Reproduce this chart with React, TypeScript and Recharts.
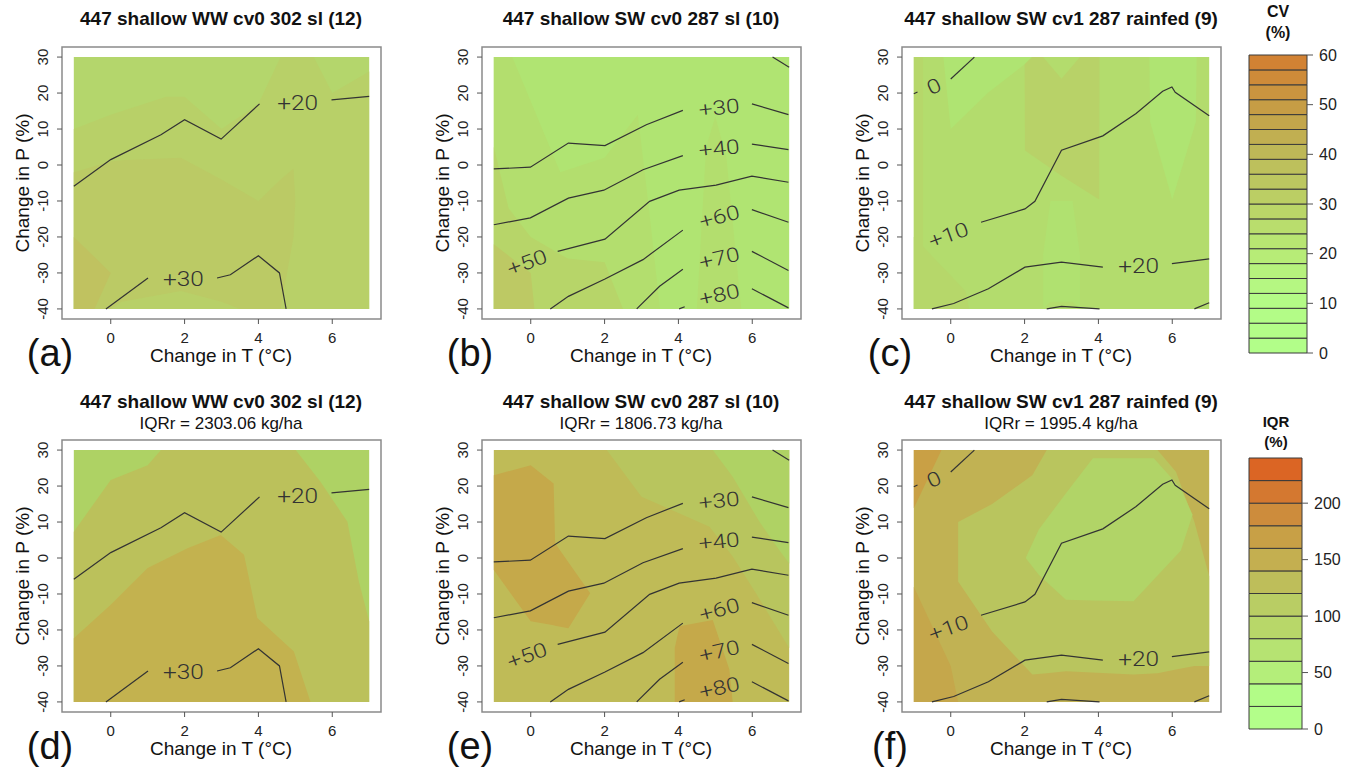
import React from 'react';
import {
  ComposedChart,
  Area,
  Line,
  Scatter,
  XAxis,
  YAxis,
  ReferenceArea,
  BarChart,
  Bar,
} from 'recharts';

type Band = { x: number; lo: number; hi: number };
type Pt = { x: number; y: number };
type Lbl = { x: number; y: number; text: string };

const toBand = (rows: number[][]): Band[] => rows.map(([x, lo, hi]) => ({ x, lo, hi }));
const toPts = (rows: number[][]): Pt[] => rows.map(([x, y]) => ({ x, y }));

// axes
const X_TICKS = [0, 2, 4, 6];
const Y_TICKS = [-40, -30, -20, -10, 0, 10, 20, 30];
const X_DOMAIN: [number, number] = [-1.32, 7.32];
const Y_DOMAIN: [number, number] = [-42.8, 32.8];

// colour bar levels
const CV_LEVELS = [0, 3, 6, 9, 12, 15, 18, 21, 24, 27, 30, 33, 36, 39, 42, 45, 48, 51, 54, 57, 60];
const CV_TICKS = [0, 10, 20, 30, 40, 50, 60];
const IQR_LEVELS = [0, 20, 40, 60, 80, 100, 120, 140, 160, 180, 200, 220, 240];
const IQR_TICKS = [0, 50, 100, 150, 200];

// filled regions (x, lower edge, upper edge)
const FULL = toBand([[-1, -40, 30], [7, -40, 30]]);

const A_MID = toBand([[-1, -40, 10], [0, -40, 14], [1.5, -40, 19], [2, -40, 19], [3, -40, 10], [4, -40, 17], [4.6, -40, 30], [5.5, -40, 30], [6, -40, 20], [7, -40, 26]]);
const A_DARK = toBand([[-1, -40, -2], [0, -40, 1], [0.3, -38, 1.3], [1.9, -35, 2], [3, -38, -4], [3.5, -40, -7], [4, -40, -10], [4.6, -40, -4], [4.95, -20, -1], [5, -10, -10]]);
const A_CORNER = toBand([[-1, -40, -20], [-0.44, -40, -25.6], [0, -30, -30]]);

const B_MID = toBand([[-1, -40, 30], [-0.5, -40, 30], [0.8, -40, -2], [2, -40, 2], [2.9, -40, 14], [3.2, -40, -12], [3.5, -40, -40]]);
const B_MID2 = toBand([[4.5, -40, -40], [4.75, -40, 5], [5, -40, 13.5], [5.3, -40, 2], [5.7, -40, -40]]);
const B_DARK = toBand([[-1, -40, 5], [-0.6, -40, -12], [0, -40, -20], [1, -40, -26], [2, -40, -27], [2.5, -40, -40]]);
const B_CORNER = toBand([[-1, -40, -22], [0, -40, -30], [0.1, -40, -40]]);

const C_LEFT = toBand([[-1, -40, 30], [-0.75, -40, 30]]);
const C_LEFT_LOW = toBand([[-1, -40, -20], [0.4, -40, -35], [0.5, -40, -40]]);
const C_DARK = toBand([[2, 30, 30], [2.01, 4, 30], [3, -3, 30], [4.02, -9.6, 30], [4.03, 30, 30]]);
const C_NOTCH = toBand([[2.5, 30, 30], [3, 24, 30], [3.5, 30, 30]]);
const C_LIGHT1 = toBand([[-0.2, 30, 30], [0, 10, 30], [1, 20, 30], [2, 28, 30], [2.2, 30, 30]]);
const C_LIGHT2 = toBand([[5.38, 30, 30], [5.4, 12, 30], [6, -9.6, 30], [6.64, 12, 30], [6.66, 30, 30]]);
const C_LIGHT3 = toBand([[2.5, -40, -25], [2.7, -38, -10], [3.3, -38, -10], [3.5, -40, -25]]);

const D_MID = toBand([[-1, -40, 7.3], [0, -40, 21.7], [1, -40, 25.8], [1.36, -40, 30], [5.01, -40, 30], [5.68, -40, 21.2], [6.41, -40, 10.1], [6.72, -40, -6.5], [7, -40, -17.6]]);
const D_IN = toBand([[-1, -40, -22.3], [0, -40, -13], [1, -40, -2.8], [2.08, -40, 2.7], [2.98, -40, 6.4], [3.61, -40, 0.9], [3.97, -40, -16.7], [4.96, -40, -26], [5.41, -40, -40]]);

const E_G1 = toBand([[2.06, 30, 30], [3, 17, 30], [4.03, 12.4, 30], [4.84, 8.7, 30], [5.47, 0.4, 30], [6.1, -9.8, 30], [7, -25, 30]]);
const E_G2 = toBand([[4.93, 30, 30], [5.47, 22.6, 30], [6.2, 10, 30], [6.73, 2.2, 30], [7, -1.5, 30]]);
const E_OR1 = toBand([[-1, -3.3, 23], [0, -17.6, 25.8], [0.62, -18.7, 20.7], [0.66, -18.8, 4.1], [1.02, -19.5, -1.2], [1.61, -9.8, -9.8]]);
const E_OR2 = toBand([[3.9, -40, -25], [4.03, -40, -19], [4.93, -40, -17.2], [5.38, -40, -31], [5.47, -40, -40]]);

const F_CORNER = toBand([[-1, 13.8, 30], [-0.25, 30, 30]]);
const F_LEFT = toBand([[-1, -40, -8], [0, -40, -30], [0.2, -40, -40]]);
const F_MID = toBand([[0.2, -6.5, 10], [1.12, -20.4, 15], [2.21, -32.4, 23], [2.6, -32, 30], [3.12, -31.5, 30], [4.95, -32.4, 30], [5.6, -32, 30], [6.1, -31, 24], [6.6, -30, 10], [7, -30, -5]]);
const F_IN = toBand([[2.03, 0, 0], [2.39, -4.7, 8], [3.12, -11.6, 18], [3.85, -11.8, 27.7], [4.95, -12, 27.7], [5.5, -6, 27.7], [6.23, 2, 19.4], [6.55, 12, 12]]);

// contour lines (split where the label sits)
const LINES_WW = [
  toPts([[-1, -5.9], [0, 1.5], [1.36, 8.4], [2, 12.6], [2.99, 7.2], [4.03, 17]]),
  toPts([[5.98, 18.1], [7, 19.1]]),
  toPts([[-0.13, -40], [1.01, -31.4]]),
  toPts([[2.88, -31.4], [3.24, -30.5], [4, -25.2], [4.57, -30], [4.75, -40]]),
];
const LABELS_WW: Lbl[] = [
  { x: 5.06, y: 17.4, text: '+20' },
  { x: 1.97, y: -31.7, text: '+30' },
];
const ANGLES_WW = [0, 0];

const LINES_SW = [
  toPts([[6.55, 30], [7, 27.2]]),
  toPts([[-1, -1.1], [-0.01, -0.6], [1.02, 6.1], [2.01, 5.4], [3.13, 11.2], [4.12, 15.2]]),
  toPts([[5.99, 17], [6.98, 14]]),
  toPts([[-1, -16.6], [-0.01, -14.7], [1.02, -9.2], [1.98, -7], [3.04, -1.3], [4.12, 2.6]]),
  toPts([[5.99, 5.8], [6.98, 4.3]]),
  toPts([[0.73, -24], [2.01, -20.6], [3.22, -10.1], [4.02, -7], [5.02, -5.6], [5.99, -3.1], [6.98, -4.8]]),
  toPts([[0.53, -40], [1.02, -36.5], [2.01, -31.7], [3.04, -26.3], [4.12, -18.1]]),
  toPts([[5.99, -12.4], [6.98, -15.9]]),
  toPts([[2.87, -40], [3.49, -33.7], [4.12, -29]]),
  toPts([[5.99, -24], [6.98, -29.3]]),
  toPts([[4.02, -40], [4.17, -39.4]]),
  toPts([[5.99, -34.4], [6.98, -39.7]]),
];
const LABELS_SW: Lbl[] = [
  { x: 5.1, y: 16, text: '+30' },
  { x: 5.1, y: 4.7, text: '+40' },
  { x: -0.1, y: -27, text: '+50' },
  { x: 5.11, y: -14.3, text: '+60' },
  { x: 5.11, y: -25.8, text: '+70' },
  { x: 5.11, y: -36, text: '+80' },
];
const ANGLES_SW = [-6, -6, -20, -15, -13, -13];

const LINES_RF = [
  toPts([[-1, 19.8], [-0.9, 20.3]]),
  toPts([[0, 23.9], [0.64, 30]]),
  toPts([[0.82, -15.9], [2.01, -12.2], [2.28, -10.1], [3, 4.1], [4.12, 8.1], [5.02, 14.3], [5.74, 20.5], [5.99, 21.7], [6.08, 20.2], [7, 13.7]]),
  toPts([[-0.51, -40], [0.08, -38.5], [1.02, -34.4], [2.01, -28.4], [3, -27], [4.12, -28.4]]),
  toPts([[5.99, -27.4], [7, -26.1]]),
  toPts([[2.6, -40], [3, -39.3], [4.03, -40]]),
  toPts([[6.6, -40], [7, -38.3]]),
];
const LABELS_RF: Lbl[] = [
  { x: -0.46, y: 21.9, text: '0' },
  { x: -0.06, y: -19.4, text: '+10' },
  { x: 5.09, y: -28.1, text: '+20' },
];
const ANGLES_RF = [-25, -20, 0];

const TITLES = [
  '447 shallow WW cv0 302 sl (12)',
  '447 shallow SW cv0 287 sl (10)',
  '447 shallow SW cv1 287 rainfed (9)',
];
const SUBTITLES = ['IQRr = 2303.06 kg/ha', 'IQRr = 1806.73 kg/ha', 'IQRr = 1995.4 kg/ha'];

const FONT = '"Liberation Sans", Arial, sans-serif';

type PanelCfg = {
  col: number;
  row: number;
  letter: string;
  title: string;
  sub?: string;
  fills: [Band[], string][];
  lines: Pt[][];
  labels: Lbl[];
  angles: number[];
};

const PANELS: PanelCfg[] = [
  { col: 0, row: 0, letter: '(a)', title: TITLES[0], lines: LINES_WW, labels: LABELS_WW, angles: ANGLES_WW,
    fills: [[FULL, '#b4d66c'], [A_MID, '#b8d068'], [A_DARK, '#bbca65'], [A_CORNER, '#c0c260']] },
  { col: 1, row: 0, letter: '(b)', title: TITLES[1], lines: LINES_SW, labels: LABELS_SW, angles: ANGLES_SW,
    fills: [[FULL, '#b0e472'], [B_MID, '#b3de6e'], [B_MID2, '#b3de6e'], [B_DARK, '#b7d569'], [B_CORNER, '#bdc964']] },
  { col: 2, row: 0, letter: '(c)', title: TITLES[2], lines: LINES_RF, labels: LABELS_RF, angles: ANGLES_RF,
    fills: [[FULL, '#b3dc6d'], [C_LEFT, '#b6d76a'], [C_LEFT_LOW, '#b6d76a'], [C_DARK, '#b8d268'], [C_NOTCH, '#b3dc6d'], [C_LIGHT1, '#afe472'], [C_LIGHT2, '#afe472'], [C_LIGHT3, '#b0e170']] },
  { col: 0, row: 1, letter: '(d)', title: TITLES[0], sub: SUBTITLES[0], lines: LINES_WW, labels: LABELS_WW, angles: ANGLES_WW,
    fills: [[FULL, '#aed264'], [D_MID, '#bbc15b'], [D_IN, '#c3b24f']] },
  { col: 1, row: 1, letter: '(e)', title: TITLES[1], sub: SUBTITLES[1], lines: LINES_SW, labels: LABELS_SW, angles: ANGLES_SW,
    fills: [[FULL, '#bfbb57'], [E_G1, '#b8c55e'], [E_G2, '#afd264'], [E_OR1, '#c5a94a'], [E_OR2, '#c5a94a']] },
  { col: 2, row: 1, letter: '(f)', title: TITLES[2], sub: SUBTITLES[2], lines: LINES_RF, labels: LABELS_RF, angles: ANGLES_RF,
    fills: [[FULL, '#c1b253'], [F_CORNER, '#c9a045'], [F_LEFT, '#c5a74b'], [F_MID, '#b9c55e'], [F_IN, '#b1d467']] },
];

// colour ramps for the keys: [value, r, g, b]
const CV_RAMP = [[0, 178, 255, 138], [12, 180, 250, 133], [20, 183, 235, 118], [30, 186, 210, 102], [40, 190, 186, 88], [50, 198, 155, 68], [60, 212, 126, 48]];
const IQR_RAMP = [[0, 179, 255, 140], [30, 178, 252, 135], [50, 180, 238, 122], [90, 184, 215, 105], [110, 185, 205, 100], [130, 190, 190, 90], [150, 196, 175, 80], [170, 200, 160, 70], [190, 205, 140, 60], [210, 212, 120, 48], [240, 222, 92, 30]];

const rampColor = (ramp: number[][], v: number) => {
  for (let i = 1; i < ramp.length; i++) {
    if (v <= ramp[i][0]) {
      const a = ramp[i - 1];
      const b = ramp[i];
      const t = (v - a[0]) / (b[0] - a[0]);
      const c = [1, 2, 3].map(k => Math.round(a[k] + (b[k] - a[k]) * t));
      return `rgb(${c[0]},${c[1]},${c[2]})`;
    }
  }
  const l = ramp[ramp.length - 1];
  return `rgb(${l[1]},${l[2]},${l[3]})`;
};

const renderYTick = (props: any) => {
  const { x, y, payload } = props;
  return (
    <text x={x} y={y} transform={`rotate(-90 ${x} ${y})`} textAnchor="middle" dominantBaseline="central" fontSize={15} fill="#222">
      {payload.value}
    </text>
  );
};

const Txt = ({ x, y, size, bold, rotate, children }: any) => (
  <div
    style={{
      position: 'absolute',
      left: x,
      top: y,
      transform: `translate(-50%, -50%)${rotate ? ` rotate(${rotate}deg)` : ''}`,
      fontSize: size,
      fontWeight: bold ? 700 : 400,
      whiteSpace: 'nowrap',
      color: '#111',
      lineHeight: 1,
    }}
  >
    {children}
  </div>
);

const ContourPanel = ({ cfg }: { cfg: PanelCfg }) => {
  const left = cfg.col * 420;
  const top = cfg.row * 393;
  const angleOf = (text: string, x: number) => {
    const i = cfg.labels.findIndex(l => l.text === text && l.x === x);
    return cfg.angles[i] || 0;
  };
  const LabelShape = (p: any) => {
    const a = angleOf(p.payload.text, p.payload.x);
    return (
      <text
        transform={`translate(${p.cx} ${p.cy}) rotate(${a}) scale(1.22 1)`}
        textAnchor="middle"
        dominantBaseline="central"
        fontSize={20}
        fontFamily="Roboto, sans-serif"
        fontWeight={300}
        fill="#333"
      >
        {p.payload.text}
      </text>
    );
  };
  return (
    <>
      {cfg.sub ? (
        <>
          <Txt x={left + 221} y={top + 8} size={19} bold>{cfg.title}</Txt>
          <Txt x={left + 221} y={top + 30} size={17}>{cfg.sub}</Txt>
        </>
      ) : (
        <Txt x={left + 221} y={top + 18} size={19} bold>{cfg.title}</Txt>
      )}
      <div style={{ position: 'absolute', left, top }}>
        <ComposedChart width={400} height={370} margin={{ top: 47, right: 19, bottom: 21, left: 32 }}>
          <XAxis
            type="number"
            dataKey="x"
            domain={X_DOMAIN}
            ticks={X_TICKS}
            allowDataOverflow
            height={30}
            tickSize={5}
            tickMargin={8}
            axisLine={false}
            tickLine={{ stroke: '#555' }}
            tick={{ fontSize: 15, fill: '#222' }}
          />
          <YAxis
            type="number"
            domain={Y_DOMAIN}
            ticks={Y_TICKS}
            allowDataOverflow
            width={30}
            tickSize={5}
            tickMargin={14}
            axisLine={false}
            tickLine={{ stroke: '#555' }}
            tick={renderYTick}
          />
          {cfg.fills.map(([data, color], i) => (
            <Area
              key={`f${i}`}
              data={data}
              dataKey={(d: Band) => [d.lo, d.hi]}
              type="linear"
              stroke="none"
              fill={color}
              fillOpacity={1}
              dot={false}
              activeDot={false}
              isAnimationActive={false}
            />
          ))}
          {cfg.lines.map((seg, i) => (
            <Line
              key={`l${i}`}
              data={seg}
              dataKey="y"
              type="linear"
              stroke="#333"
              strokeWidth={1.2}
              dot={false}
              activeDot={false}
              isAnimationActive={false}
            />
          ))}
          <Scatter data={cfg.labels} dataKey="y" shape={LabelShape} isAnimationActive={false} />
          <ReferenceArea
            x1={X_DOMAIN[0]}
            x2={X_DOMAIN[1]}
            y1={Y_DOMAIN[0]}
            y2={Y_DOMAIN[1]}
            fill="none"
            stroke="#8a8a8a"
            strokeWidth={1.5}
            ifOverflow="visible"
          />
        </ComposedChart>
      </div>
      <Txt x={left + 221} y={top + 355} size={19}>Change in T (°C)</Txt>
      <Txt x={left + 22} y={top + 183} size={19} rotate={-90}>Change in P (%)</Txt>
      <Txt x={left + 50} y={top + 353} size={38}>{cfg.letter}</Txt>
    </>
  );
};

const ColorKey = ({ left, top, height, plotW, levels, ticks, ramp, mTop, mBottom }: any) => {
  const row: Record<string, any> = { name: 'key' };
  levels.slice(1).forEach((v: number, i: number) => {
    row[`b${i}`] = v - levels[i];
  });
  const max = levels[levels.length - 1];
  return (
    <div style={{ position: 'absolute', left, top }}>
      <BarChart
        width={120}
        height={height}
        data={[row]}
        barCategoryGap={0}
        margin={{ top: mTop, bottom: mBottom, left: 9, right: 0 }}
      >
        <XAxis dataKey="name" hide />
        <YAxis
          orientation="right"
          type="number"
          domain={[0, max]}
          ticks={ticks}
          width={120 - 9 - plotW}
          tickSize={6}
          tickMargin={6}
          axisLine={false}
          tickLine={{ stroke: '#555' }}
          tick={{ fontSize: 16, fill: '#222', textAnchor: 'start' }}
        />
        {levels.slice(1).map((v: number, i: number) => (
          <Bar
            key={`b${i}`}
            dataKey={`b${i}`}
            stackId="k"
            fill={rampColor(ramp, (levels[i] + v) / 2)}
            stroke="#3a3a3a"
            strokeWidth={1}
            isAnimationActive={false}
          />
        ))}
      </BarChart>
    </div>
  );
};

export default function App() {
  return (
    <div
      style={{
        position: 'absolute',
        left: 0,
        top: 0,
        width: 1360,
        height: 769,
        background: '#fff',
        fontFamily: FONT,
        overflow: 'hidden',
      }}
    >
      {PANELS.map((cfg, i) => (
        <ContourPanel key={i} cfg={cfg} />
      ))}
      <Txt x={1278} y={12} size={16} bold>CV</Txt>
      <Txt x={1278} y={33} size={16} bold>(%)</Txt>
      <ColorKey left={1240} top={40} height={330} plotW={58} levels={CV_LEVELS} ticks={CV_TICKS} ramp={CV_RAMP} mTop={15} mBottom={17} />
      <Txt x={1276} y={421} size={15} bold>IQR</Txt>
      <Txt x={1276} y={441} size={15} bold>(%)</Txt>
      <ColorKey left={1240} top={443} height={300} plotW={53} levels={IQR_LEVELS} ticks={IQR_TICKS} ramp={IQR_RAMP} mTop={15} mBottom={14} />
    </div>
  );
}
